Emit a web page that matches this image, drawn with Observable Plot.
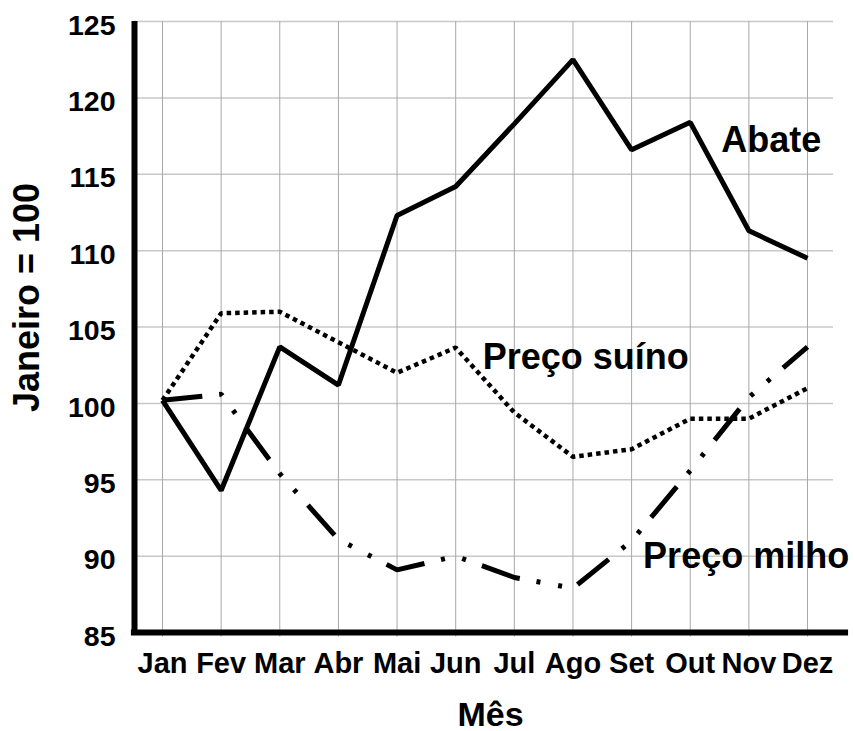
<!DOCTYPE html>
<html><head><meta charset="utf-8">
<script src="https://cdn.jsdelivr.net/npm/d3@7"></script>
<script src="https://cdn.jsdelivr.net/npm/@observablehq/plot@0.6"></script>
<style>html,body{margin:0;padding:0;background:#fff;} svg{display:block}</style>
</head><body><div id="chart"></div>
<script>
const months = ["Jan","Fev","Mar","Abr","Mai","Jun","Jul","Ago","Set","Out","Nov","Dez"];
const abate = [100.2, 94.3, 103.7, 101.2, 112.3, 114.2, 118.3, 122.5, 116.6, 118.4, 111.3, 109.5];
const precoSuino = [100.2, 105.9, 106.0, 104.0, 102.0, 103.65, 99.4, 96.5, 97.0, 99.0, 99.0, 101.0];
const precoMilho = [100.2, 100.6, 95.4, 91.1, 89.1, 90.0, 88.6, 87.9, 91.0, 95.6, 100.4, 103.7];
const yTicks = [85, 90, 95, 100, 105, 110, 115, 120, 125];

const idx = months.map((m, i) => i);
const rows = (vals) => vals.map((v, i) => ({i, v}));
const font = "'Liberation Sans', Arial, sans-serif";

const chart = Plot.plot({
  width: 854,
  height: 731,
  marginLeft: 134,
  marginRight: 21,
  marginTop: 21,
  marginBottom: 99,
  style: {fontFamily: font, color: "black", background: "white"},
  x: {type: "linear", domain: [-0.4775, 11.443], axis: null},
  y: {domain: [85, 125], axis: null},
  marks: [
    Plot.ruleY(yTicks, {stroke: "#c8c8c8", strokeWidth: 1.5}),
    Plot.ruleX(idx, {y1: 84.7, y2: 125, stroke: "#a8a8a8", strokeWidth: 1}),
    Plot.line(rows(precoSuino), {x: "i", y: "v", stroke: "black", strokeWidth: 4.5, strokeDasharray: "4.5,4", strokeLinecap: "butt", strokeLinejoin: "miter"}),
    Plot.line(rows(precoMilho), {x: "i", y: "v", stroke: "black", strokeWidth: 5, strokeDasharray: "40,17,4,18,4,17", strokeLinecap: "butt", strokeLinejoin: "miter"}),
    Plot.line(rows(abate), {x: "i", y: "v", stroke: "black", strokeWidth: 5, strokeLinejoin: "miter", strokeLinecap: "butt"}),
    Plot.ruleX([-0.4775], {y1: 85, y2: 125, stroke: "black", strokeWidth: 6}),
    Plot.ruleY([85], {x1: -0.53, x2: 11.70, stroke: "black", strokeWidth: 6}),
    Plot.axisX(idx, {tickFormat: i => months[i], tickSize: 0, tickPadding: 19.5, fontSize: 29, fontWeight: "bold", label: null}),
    Plot.axisY(yTicks, {tickSize: 0, tickPadding: 19, fontSize: 28.5, fontWeight: "bold", dy: 4, label: null}),
    Plot.text([{i: 9, v: abate[9], t: "Abate"}], {x: "i", y: "v", text: "t", textAnchor: "start", lineAnchor: "bottom", dx: 31, dy: 30, fontSize: 36, fontWeight: "bold"}),
    Plot.text([{i: 5, v: precoSuino[5], t: "Preço suíno"}], {x: "i", y: "v", text: "t", textAnchor: "start", lineAnchor: "bottom", dx: 27, dy: 21, fontSize: 36, fontWeight: "bold"}),
    Plot.text([{i: 8, v: precoMilho[8], t: "Preço milho"}], {x: "i", y: "v", text: "t", textAnchor: "start", lineAnchor: "bottom", dx: 11.5, dy: 27.5, fontSize: 36, fontWeight: "bold"}),
    Plot.text(["Janeiro = 100"], {frameAnchor: "left", text: d => d, dx: -107, dy: -29.5, rotate: -90, lineAnchor: "middle", textAnchor: "middle", fontSize: 36, fontWeight: "bold"}),
    Plot.text(["Mês"], {frameAnchor: "bottom", text: d => d, dx: 6.5, dy: 93, lineAnchor: "bottom", textAnchor: "middle", fontSize: 34, fontWeight: "bold"})
  ]
});
document.getElementById("chart").appendChild(chart);
</script>
</body></html>
